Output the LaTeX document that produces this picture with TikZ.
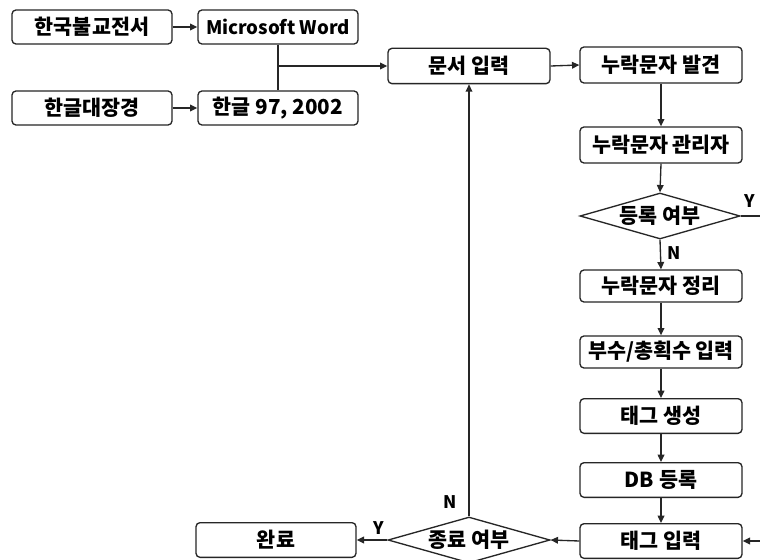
\documentclass[tikz,border=0pt]{standalone}
\usepackage{fontspec}
\setmainfont{Noto Sans CJK KR}
\usetikzlibrary{arrows.meta,shapes.geometric}
\tikzset{
  box/.style={draw=black!85, line width=1pt, rounded corners=3pt, minimum width=120pt, minimum height=25.5pt, inner sep=0pt, font=\fontsize{15.5pt}{16pt}\selectfont\bfseries},
  dia/.style={draw=black!85, line width=1pt, diamond, shape aspect=3.5, minimum width=120pt, minimum height=34.5pt, inner sep=0pt, font=\fontsize{15.5pt}{16pt}\selectfont\bfseries},
  con/.style={draw=black!85, line width=1pt},
  arr/.style={con, -{Triangle[length=5.5pt,width=5pt]}},
  lbl/.style={font=\fontsize{13pt}{14pt}\selectfont\bfseries, inner sep=0pt}
}
\begin{document}
\begin{tikzpicture}[x=0.75pt,y=-0.75pt]
\useasboundingbox (0,0) rectangle (760,560);
\clip (0,0) rectangle (760,560);
\fill[white] (0,0) rectangle (760,560);
% top inputs
\node[box] (kb) at (92,27) {한국불교전서};
\node[box, font=\fontsize{14pt}{15pt}\selectfont\bfseries] (ms) at (278,27) {Microsoft Word};
\node[box] (hd) at (92,108) {한글대장경};
\node[box] (hg) at (278,108) {한글 97, 2002};
% main
\node[box, minimum width=121.5pt, minimum height=26.5pt] (mi) at (469,66) {문서 입력};
\node[box, minimum width=121.5pt, minimum height=27pt] (bg) at (661,65) {누락문자 발견};
\node[box, minimum width=121.5pt, minimum height=27pt] (gl) at (661,145) {누락문자 관리자};
\node[dia] (dr) at (660,216) {등록 여부};
\node[box, minimum width=121.5pt, minimum height=24pt] (jr) at (661,286) {누락문자 정리};
\node[box, minimum width=121.5pt, minimum height=24pt] (bs) at (661,352) {부수/총획수 입력};
\node[box, minimum width=121.5pt, minimum height=26pt] (ts) at (661,416) {태그 생성};
\node[box, minimum width=121.5pt, minimum height=26pt] (db) at (661,480) {DB 등록};
\node[box, minimum width=121.5pt, minimum height=26pt] (ti) at (661,541) {태그 입력};
\node[dia, minimum width=121.5pt] (ed) at (469,540) {종료 여부};
\node[box, minimum height=26pt] (wr) at (276,540) {완료};
\coordinate (ey) at (775,216);
\coordinate (ex) at (775,541);
\coordinate (j) at (ms.south |- mi.west);
% connectors
\draw[arr] (kb.east) -- (ms.west);
\draw[arr] (hd.east) -- (hg.west);
\draw[con] (ms.south) -- (hg.north);
\draw[arr] (j) -- (mi.west);
\draw[arr] (mi.east) -- (bg.west);
\draw[arr] (bg.south) -- (gl.north);
\draw[arr] (gl.south) -- (dr.north);
\draw[arr] (dr.south) -- node[lbl, right=5pt, pos=0.45] {N} (jr.north);
\draw[con] (dr.east) -- (ey);
\node[lbl] (yl1) at (750,201) {Y};
\draw[arr] (jr.south) -- (bs.north);
\draw[arr] (bs.south) -- (ts.north);
\draw[arr] (ts.south) -- (db.north);
\draw[arr] (db.south) -- (ti.north);
\draw[arr] (ex) -- (ti.east);
\draw[arr] (ti.west) -- (ed.east);
\draw[arr] (ed.west) -- (wr.east);
\node[lbl] (yl2) at (379,528) {Y};
\draw[arr] (ed.north) -- (mi.south);
\node[lbl] (nl2) at (450,502) {N};
\end{tikzpicture}
\end{document}
